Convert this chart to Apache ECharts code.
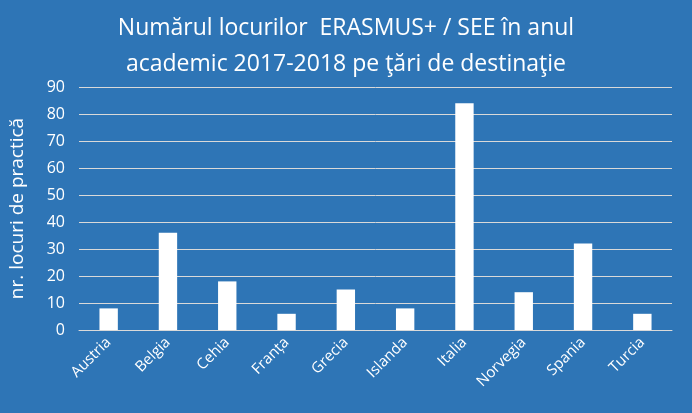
<!DOCTYPE html>
<html><head><meta charset="utf-8">
<script src="https://cdn.jsdelivr.net/npm/echarts@6/dist/echarts.min.js"></script>
<style>html,body{margin:0;padding:0;background:#2E75B6}#c{width:692px;height:413px}</style>
</head><body><div id="c"></div>
<script>
const categories = ['Austria','Belgia','Cehia','Franța','Grecia','Islanda','Italia','Norvegia','Spania','Turcia'];
const values = [8,36,18,6,15,8,84,14,32,6];
const titleLines = ['Numărul locurilor  ERASMUS+ / SEE în anul','academic 2017-2018 pe ţări de destinaţie'];
const yAxisName = 'nr. locuri de practică';

const chart = echarts.init(document.getElementById('c'), null, {renderer:'canvas'});
chart.setOption({
  backgroundColor:'#2E75B6',
  animation:false,
  title:{
    text: titleLines.join('\n'),
    left:'center', top:5,
    textStyle:{color:'#fff', fontFamily:'Open Sans', fontWeight:'normal', fontSize:23, lineHeight:36}
  },
  grid:{left:77, right:20, top:87, bottom:83},
  xAxis:{
    type:'category', data:categories,
    axisLine:{lineStyle:{color:'#d9d9d9', width:1}},
    axisTick:{show:false},
    axisLabel:{color:'#fff', rotate:45, fontFamily:'Open Sans', fontSize:15, margin:10, interval:0}
  },
  yAxis:{
    type:'value', min:0, max:90, interval:10,
    name:yAxisName, nameLocation:'middle', nameGap:52, nameRotate:90,
    nameTextStyle:{color:'#fff', fontFamily:'Open Sans', fontSize:19},
    axisLine:{show:false}, axisTick:{show:false},
    axisLabel:{color:'#fff', fontFamily:'Open Sans', fontSize:16, margin:14},
    splitLine:{lineStyle:{color:'#d9d9d9', width:1}}
  },
  series:[{type:'bar', data:values, barWidth:'31%', itemStyle:{color:'#fff'}}]
});
</script></body></html>
